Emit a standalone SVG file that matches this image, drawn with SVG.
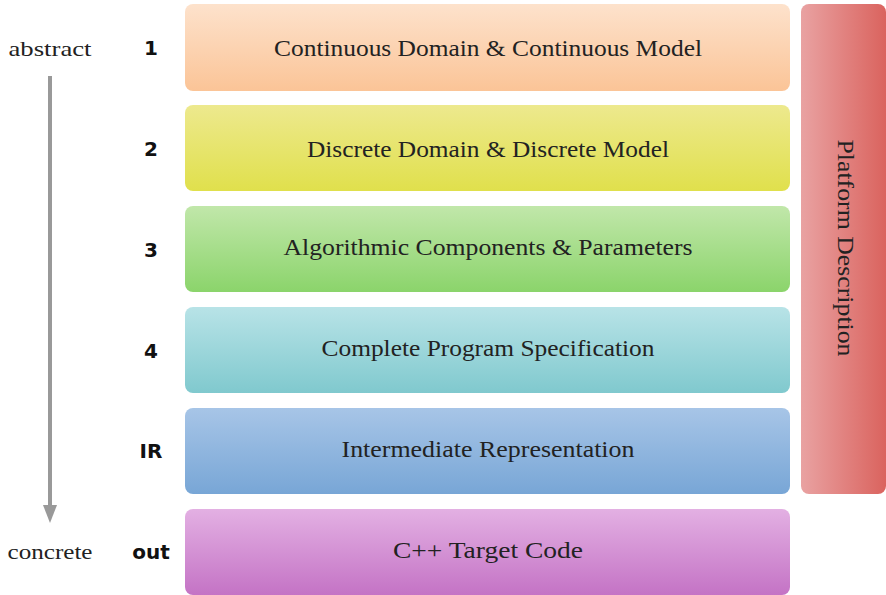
<svg xmlns="http://www.w3.org/2000/svg" width="886" height="595" viewBox="0 0 886 595">
<style>
.lbl{font-family:"Liberation Serif","DejaVu Serif",serif;font-size:23px;fill:#222;text-anchor:middle;dominant-baseline:central}
.num{font-family:"DejaVu Sans","Liberation Sans",sans-serif;font-weight:bold;font-size:20px;fill:#111;text-anchor:middle;dominant-baseline:central}
.side{font-family:"Liberation Serif","DejaVu Serif",serif;font-size:22px;fill:#222;text-anchor:middle;dominant-baseline:central}
</style>
<defs>
<linearGradient id="g1" x1="0" y1="0" x2="0" y2="1"><stop offset="0" stop-color="#fde2cc"/><stop offset="1" stop-color="#fbc497"/></linearGradient>
<linearGradient id="g2" x1="0" y1="0" x2="0" y2="1"><stop offset="0" stop-color="#ede98e"/><stop offset="1" stop-color="#e0e04c"/></linearGradient>
<linearGradient id="g3" x1="0" y1="0" x2="0" y2="1"><stop offset="0" stop-color="#c1e7aa"/><stop offset="1" stop-color="#8bd46b"/></linearGradient>
<linearGradient id="g4" x1="0" y1="0" x2="0" y2="1"><stop offset="0" stop-color="#b8e3e7"/><stop offset="1" stop-color="#80c9ce"/></linearGradient>
<linearGradient id="g5" x1="0" y1="0" x2="0" y2="1"><stop offset="0" stop-color="#a7c5e7"/><stop offset="1" stop-color="#78a6d6"/></linearGradient>
<linearGradient id="g6" x1="0" y1="0" x2="0" y2="1"><stop offset="0" stop-color="#e3b0e3"/><stop offset="1" stop-color="#c473c5"/></linearGradient>
<linearGradient id="gp" x1="0" y1="0" x2="1" y2="0"><stop offset="0" stop-color="#e9a2a2"/><stop offset="1" stop-color="#da635e"/></linearGradient>
</defs>
<g id="connectors">
<line x1="50" y1="76" x2="50" y2="506" stroke="#999" stroke-width="4"/>
<path d="M43,505 L57,505 L50,523 z" fill="#999"/>
</g>
<text class="side" x="50" y="48" textLength="83" lengthAdjust="spacingAndGlyphs">abstract</text>
<text class="side" x="50" y="551" textLength="85" lengthAdjust="spacingAndGlyphs">concrete</text>
<g id="n1"><rect x="185" y="4" width="605" height="87" rx="8" fill="url(#g1)"/><text class="num" x="151" y="48">1</text><text class="lbl" x="488" y="48" textLength="428" lengthAdjust="spacingAndGlyphs">Continuous Domain &amp; Continuous Model</text></g>
<g id="n2"><rect x="185" y="105" width="605" height="86" rx="8" fill="url(#g2)"/><text class="num" x="151" y="149">2</text><text class="lbl" x="488" y="149" textLength="362" lengthAdjust="spacingAndGlyphs">Discrete Domain &amp; Discrete Model</text></g>
<g id="n3"><rect x="185" y="206" width="605" height="86" rx="8" fill="url(#g3)"/><text class="num" x="151" y="250">3</text><text class="lbl" x="488" y="247" textLength="409" lengthAdjust="spacingAndGlyphs">Algorithmic Components &amp; Parameters</text></g>
<g id="n4"><rect x="185" y="307" width="605" height="86" rx="8" fill="url(#g4)"/><text class="num" x="151" y="351">4</text><text class="lbl" x="488" y="348" textLength="333" lengthAdjust="spacingAndGlyphs">Complete Program Specification</text></g>
<g id="n5"><rect x="185" y="408" width="605" height="86" rx="8" fill="url(#g5)"/><text class="num" x="151" y="451">IR</text><text class="lbl" x="488" y="449" textLength="293" lengthAdjust="spacingAndGlyphs">Intermediate Representation</text></g>
<g id="n6"><rect x="185" y="509" width="605" height="86" rx="8" fill="url(#g6)"/><text class="num" x="151" y="552">out</text><text class="lbl" x="488" y="550" textLength="190" lengthAdjust="spacingAndGlyphs">C++ Target Code</text></g>
<g id="platform"><rect x="801" y="4" width="85" height="490" rx="8" fill="url(#gp)"/><text class="lbl" transform="translate(845,248) rotate(90)" x="0" y="0" textLength="217" lengthAdjust="spacingAndGlyphs">Platform Description</text></g>
</svg>
